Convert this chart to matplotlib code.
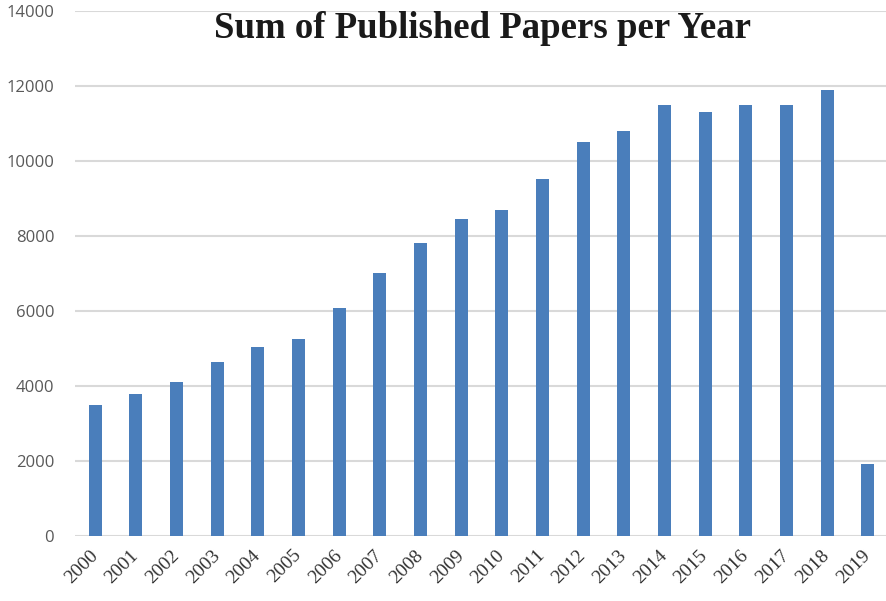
import matplotlib.pyplot as plt
import numpy as np

years = [str(y) for y in range(2000, 2020)]
papers = [3500, 3800, 4100, 4650, 5050, 5250, 6080, 7000, 7820, 8450,
          8700, 9530, 10500, 10800, 11500, 11300, 11500, 11500, 11900, 1920]
y_ticks = [0, 2000, 4000, 6000, 8000, 10000, 12000, 14000]

fig = plt.figure(figsize=(8.86, 6.01), dpi=100)
ax = fig.add_axes([75 / 886, (601 - 536) / 601, 813 / 886, 525 / 601])

x = np.arange(len(years))
ax.bar(x, papers, width=0.32, color="#4a7ebb", zorder=2)

ax.set_xlim(-0.5, len(years) - 0.5)
ax.set_ylim(0, 14000)
ax.set_yticks(y_ticks)
ax.set_yticklabels([str(t) for t in y_ticks], color="#595959", fontsize=12,
                   family="Open Sans")
ax.set_xticks(x)
ax.set_xticklabels(years, rotation=45, ha="right", va="center",
                   rotation_mode="anchor", family="Liberation Serif",
                   fontsize=14, color="#333333")
ax.tick_params(axis="y", length=0, pad=15)
ax.tick_params(axis="x", length=0, pad=12)

ax.grid(axis="y", color="#d9d9d9", linewidth=1.5, zorder=0)
ax.set_axisbelow(True)
for s in ax.spines.values():
    s.set_visible(False)

fig.text(483 / 886, 1 - 29 / 601, "Sum of Published Papers per Year",
         family="Liberation Serif", fontweight="bold", fontsize=26.5,
         ha="center", va="center", color="#1a1a1a")

fig.savefig("out.png", dpi=100)
